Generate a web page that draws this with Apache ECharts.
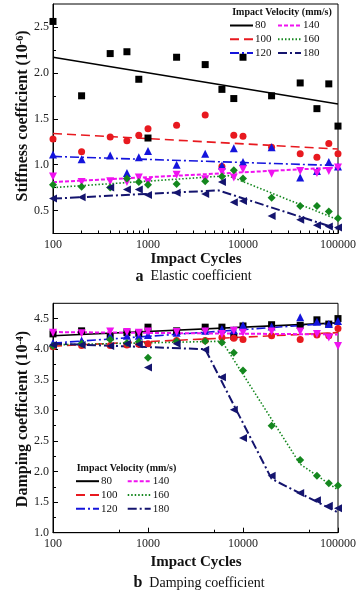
<!DOCTYPE html>
<html><head><meta charset="utf-8">
<script src="https://cdn.jsdelivr.net/npm/echarts@6/dist/echarts.min.js"></script>
<style>html,body{margin:0;padding:0;background:#fff}#c{width:362px;height:595px}</style>
</head><body><div id="c"></div>
<script>
// ---------- DATA ----------
const velocities = ['80', '100', '120', '140', '160', '180'];
const cycles = [100, 200, 400, 600, 800, 1000, 2000, 4000, 6000, 8000, 10000, 20000, 40000, 60000, 80000, 100000];
const xTickLabels = [100, 1000, 10000, 100000];

// (a) Stiffness coefficient (10^-6)
const stiff80  = [2.56, 1.75, 2.21, 2.23, 1.93, 1.29, 2.17, 2.09, 1.82, 1.72, 2.17, 1.75, 1.89, 1.61, 1.88, 1.42];
const stiff100 = [1.28, 1.14, 1.30, 1.26, 1.32, 1.39, 1.43, 1.54, 0.98, 1.32, 1.31, 1.19, 1.12, 1.08, 1.23, 1.12];
const stiff120 = [1.11, 1.06, 1.10, 0.91, 1.08, 1.15, 1.00, 1.12, 0.99, 1.18, 1.03, 1.19, 0.86, 0.93, 1.03, 0.98];
const stiff140 = [0.87, 0.81, 0.82, 0.81, 0.86, 0.81, 0.89, 0.84, 0.92, 0.86, 0.95, 0.90, 0.93, 0.91, 0.93, 0.97];
const stiff160 = [0.78, 0.76, 0.75, 0.85, 0.81, 0.78, 0.79, 0.82, 0.87, 0.94, 0.85, 0.64, 0.55, 0.55, 0.49, 0.415];
const stiff180 = [0.63, 0.645, 0.75, 0.73, 0.73, 0.67, 0.695, 0.68, 0.81, 0.59, 0.605, 0.44, 0.40, 0.34, 0.325, 0.315];
const stiffFit80  = [[100, 2.17], [100000, 1.66]];
const stiffFit100 = [[100, 1.34], [100000, 1.17]];
const stiffFit120 = [[100, 1.09], [100000, 0.99]];
const stiffFit140 = [[100, 0.81], [100000, 0.97]];
const stiffFit160 = [[100, 0.75], [7000, 0.88], [100000, 0.40]];
const stiffFit180 = [[100, 0.63], [5500, 0.72], [100000, 0.30]];
const stiffTicks = [0.5, 1.0, 1.5, 2.0, 2.5];
const stiffMinor = [0.75, 1.25, 1.75, 2.25];

// (b) Damping coefficient (10^-4)
const damp80  = [4.25, 4.30, 4.20, 4.27, 4.26, 4.36, 4.30, 4.36, 4.36, 4.21, 4.38, 4.40, 4.39, 4.48, 4.41, 4.50];
const damp100 = [4.04, 4.06, 4.06, 4.07, 4.08, 4.09, 4.14, 4.14, 4.19, 4.18, 4.16, 4.22, 4.16, 4.23, 4.22, 4.34];
const damp120 = [4.10, 4.14, 4.22, 4.22, 4.22, 4.23, 4.27, 4.30, 4.33, 4.31, 4.39, 4.37, 4.52, 4.45, 4.41, 4.46];
const damp140 = [4.27, 4.26, 4.29, 4.28, 4.27, 4.29, 4.28, 4.29, 4.25, 4.30, 4.27, 4.29, 4.29, 4.25, 4.19, 4.05];
const damp160 = [4.05, 4.09, 4.16, 4.10, 4.12, 3.86, 4.13, 4.13, 4.11, 3.94, 3.65, 2.75, 2.19, 1.93, 1.81, 1.77];
const damp180 = [4.07, 4.07, 4.05, 4.09, 4.08, 3.70, 4.09, 3.99, 3.54, 3.01, 2.55, 1.93, 1.65, 1.53, 1.44, 1.40];
const dampFit80  = [[100, 4.22], [100000, 4.43]];
const dampFit100 = [[100, 4.05], [100000, 4.27]];
const dampFit120 = [[100, 4.10], [100000, 4.43]];
const dampFit140 = [[100, 4.28], [100000, 4.24]];
const dampFit160 = [[100, 4.07], [6000, 4.13], [40000, 2.12], [100000, 1.70]];
const dampFit180 = [[100, 4.09], [4000, 4.00], [20000, 1.88], [100000, 1.33]];
const dampTicks = [1.0, 1.5, 2.0, 2.5, 3.0, 3.5, 4.0, 4.5];
const dampMinor = [1.25, 1.75, 2.25, 2.75, 3.25, 3.75, 4.25];

const minorCyclesA = [200,300,400,500,600,700,800,900,2000,3000,4000,5000,6000,7000,8000,9000,20000,30000,40000,50000,60000,70000,80000,90000];
const minorCyclesB = [500, 5000, 50000];

// ---------- STYLE ----------
const SERIF = 'Liberation Serif';
const sty = {
  '80':  {color: '#000000', symbol: 'rect',     rot: 0,   dash: 'solid',      w: 1.6, size: 7},
  '100': {color: '#e8191f', symbol: 'circle',   rot: 0,   dash: [9, 5],       w: 1.6, size: 7},
  '120': {color: '#1414dc', symbol: 'triangle', rot: 0,   dash: [9, 3, 2, 3], w: 1.6, size: 8},
  '140': {color: '#f012f0', symbol: 'triangle', rot: 180, dash: [4, 2],       w: 2,   size: 8},
  '160': {color: '#14871e', symbol: 'diamond',  rot: 0,   dash: [1.5, 2],     w: 1.6, size: 8},
  '180': {color: '#14146e', symbol: 'triangle', rot: 90,  dash: [9, 3, 2, 3], w: 2,   size: 8}
};

const pts = arr => cycles.map((c, i) => [c, arr[i]]);

const chart = echarts.init(document.getElementById('c'), null, {renderer: 'canvas'});

function xAxes(grid, minorVals) {
  return [
    {gridIndex: grid, type: 'log', logBase: 10, min: 100, max: 100000,
     axisLine: {lineStyle: {color: '#000', width: 1}},
     axisTick: {inside: true, length: 5, lineStyle: {color: '#000'}},
     axisLabel: {fontFamily: SERIF, fontSize: 12, color: '#222', margin: 5, customValues: xTickLabels, formatter: v => String(Math.round(v))},
     splitLine: {show: false}},
    {gridIndex: grid, type: 'value', min: 2, max: 5, position: 'bottom',
     axisLine: {show: false}, axisLabel: {show: false}, splitLine: {show: false},
     axisTick: {inside: true, length: 3, lineStyle: {color: '#000'}, customValues: minorVals.map(v => Math.log10(v))}}
  ];
}
function yAxes(grid, min, max, ticks, minor) {
  return [
    {gridIndex: grid, type: 'value', min: min, max: max,
     axisLine: {show: true, lineStyle: {color: '#000', width: 1}},
     axisTick: {show: true, inside: true, length: 5, lineStyle: {color: '#000'}, customValues: ticks},
     axisLabel: {fontFamily: SERIF, fontSize: 12, color: '#222', margin: 4, customValues: ticks, formatter: v => v.toFixed(1)},
     splitLine: {show: false}},
    {gridIndex: grid, type: 'value', min: min, max: max, position: 'left',
     axisLine: {show: false}, axisLabel: {show: false}, splitLine: {show: false},
     axisTick: {show: true, inside: true, length: 3, lineStyle: {color: '#000'}, customValues: minor}}
  ];
}

const series = [];
function addPanel(axisIdx, fits, values) {
  velocities.forEach((v, k) => {
    const s = sty[v];
    series.push({
      type: 'line', name: v, xAxisIndex: axisIdx, yAxisIndex: axisIdx,
      data: fits[k], symbol: 'none', silent: true, animation: false,
      lineStyle: {color: s.color, width: s.w, type: s.dash}, itemStyle: {color: s.color}, z: 2
    });
  });
  velocities.forEach((v, k) => {
    const s = sty[v];
    series.push({
      type: 'scatter', name: 'pts' + v + '_' + axisIdx, xAxisIndex: axisIdx, yAxisIndex: axisIdx,
      data: pts(values[k]), symbol: s.symbol, symbolRotate: s.rot, symbolSize: s.size,
      itemStyle: {color: s.color, opacity: 1}, animation: false, z: 3, clip: false
    });
  });
}
addPanel(0, [stiffFit80, stiffFit100, stiffFit120, stiffFit140, stiffFit160, stiffFit180],
            [stiff80, stiff100, stiff120, stiff140, stiff160, stiff180]);
addPanel(2, [dampFit80, dampFit100, dampFit120, dampFit140, dampFit160, dampFit180],
            [damp80, damp100, damp120, damp140, damp160, damp180]);

function legend(left, top, names) {
  return {data: names, orient: 'vertical', left: left, top: top, itemWidth: 23, itemHeight: 10, itemGap: 2.8,
    padding: 0, selectedMode: false,
    itemStyle: {opacity: 0, borderWidth: 0},
    lineStyle: {width: 2},
    textStyle: {fontFamily: SERIF, fontSize: 11, color: '#111', lineHeight: 10, padding: [0, 0, 0, -3]}};
}

const gA = {left: 53, top: 4, width: 285, height: 229.5};
const gB = {left: 53, top: 303.3, width: 285, height: 229.4};

chart.setOption({
  animation: false,
  grid: [
    Object.assign({show: true, borderColor: '#000', borderWidth: 1, backgroundColor: 'transparent'}, gA),
    Object.assign({show: true, borderColor: '#000', borderWidth: 1, backgroundColor: 'transparent'}, gB)
  ],
  xAxis: [...xAxes(0, minorCyclesA), ...xAxes(1, minorCyclesB)],
  yAxis: [...yAxes(0, 0.25, 2.75, stiffTicks, stiffMinor), ...yAxes(1, 1.0, 4.75, dampTicks, dampMinor)],
  legend: [
    legend(229, 20, ['80', '100', '120']),
    legend(277, 20, ['140', '160', '180']),
    legend(75, 475.7, ['80', '100', '120']),
    legend(126.7, 475.7, ['140', '160', '180'])
  ],
  series: series,
  graphic: [
    {type: 'text', x: 282, y: 12.7, style: {text: 'Impact Velocity (mm/s)', font: 'bold 10px "Liberation Serif"', fill: '#111', align: 'center', verticalAlign: 'middle'}},
    {type: 'text', x: 126.5, y: 468.3, style: {text: 'Impact Velocity (mm/s)', font: 'bold 10px "Liberation Serif"', fill: '#111', align: 'center', verticalAlign: 'middle'}},
    {type: 'text', x: 196, y: 259, style: {text: 'Impact Cycles', font: 'bold 15px "Liberation Serif"', fill: '#111', align: 'center', verticalAlign: 'middle'}},
    {type: 'text', x: 196, y: 561.7, style: {text: 'Impact Cycles', font: 'bold 15px "Liberation Serif"', fill: '#111', align: 'center', verticalAlign: 'middle'}},
    {type: 'text', x: 193.5, y: 276.7, style: {text: '{b|a}{n|  Elastic coefficient}', align: 'center', verticalAlign: 'middle',
      rich: {b: {font: 'bold 16px "Liberation Serif"', fill: '#111'}, n: {font: '14px "Liberation Serif"', fill: '#111'}}}},
    {type: 'text', x: 199, y: 583.3, style: {text: '{b|b}{n|  Damping coefficient}', align: 'center', verticalAlign: 'middle',
      rich: {b: {font: 'bold 16px "Liberation Serif"', fill: '#111'}, n: {font: '14px "Liberation Serif"', fill: '#111'}}}},
    {type: 'text', x: 23, y: 116, rotation: Math.PI / 2, style: {text: '{t|Stiffness coefficient (10}{s|-6}{t|)}', align: 'center', verticalAlign: 'middle',
      rich: {t: {font: 'bold 16px "Liberation Serif"', fill: '#111'}, s: {font: 'bold 10px "Liberation Serif"', fill: '#111', verticalAlign: 'top', padding: [0, 0, 6, 0]}}}},
    {type: 'text', x: 23, y: 419, rotation: Math.PI / 2, style: {text: '{t|Damping coefficient (10}{s|-4}{t|)}', align: 'center', verticalAlign: 'middle',
      rich: {t: {font: 'bold 16px "Liberation Serif"', fill: '#111'}, s: {font: 'bold 10px "Liberation Serif"', fill: '#111', verticalAlign: 'top', padding: [0, 0, 6, 0]}}}}
  ]
});
</script></body></html>
